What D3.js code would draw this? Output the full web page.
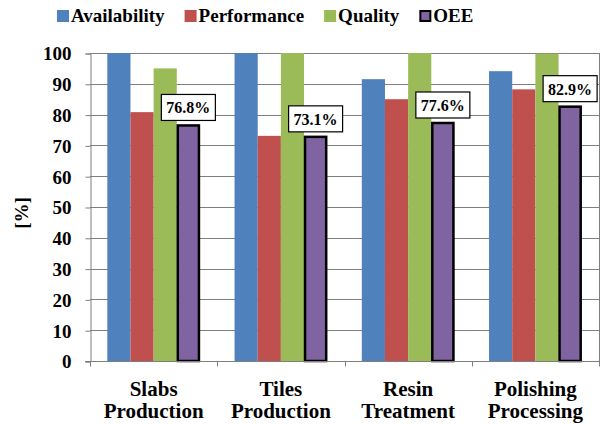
<!DOCTYPE html>
<html>
<head>
<meta charset="utf-8">
<script src="https://cdn.jsdelivr.net/npm/d3@7"></script>
<style>
  html, body { margin: 0; padding: 0; background: #fff; }
  svg { display: block; }
</style>
</head>
<body>
<svg id="chart" width="601" height="425"></svg>
<script>
// OEE breakdown per production line
const categories = [["Slabs", "Production"], ["Tiles", "Production"], ["Resin", "Treatment"], ["Polishing", "Processing"]];
const series = ["Availability", "Performance", "Quality", "OEE"];
const availability = [100, 100, 91.5, 94.1];
const performance = [80.8, 73.1, 85.0, 88.2];
const quality = [95.0, 100, 100, 99.8];
const oee = [76.8, 73.1, 77.6, 82.9];
const oeeLabels = ["76.8%", "73.1%", "77.6%", "82.9%"];
const yTicks = [0, 10, 20, 30, 40, 50, 60, 70, 80, 90, 100];

const colors = { Availability: "#4F81BD", Performance: "#C0504D", Quality: "#9BBB59", OEE: "#8064A2" };
const valuesBySeries = { Availability: availability, Performance: performance, Quality: quality, OEE: oee };

const FONT = "Liberation Serif";
const svg = d3.select("#chart");
const plot = { left: 90, right: 599, top: 53, bottom: 361 };

const catKeys = categories.map(c => c.join(" "));
const x0 = d3.scaleBand().domain(catKeys).range([plot.left, plot.right]).padding(0);
const groupPad = x0.bandwidth() * 0.136;
const x1 = d3.scaleBand().domain(series).range([groupPad, x0.bandwidth() - groupPad]).padding(0);
const y = d3.scaleLinear().domain([0, 100]).range([plot.bottom, plot.top]);

// gridlines
svg.append("g")
  .selectAll("line")
  .data(yTicks.filter(t => t > 0))
  .join("line")
  .attr("x1", plot.left).attr("x2", plot.right)
  .attr("y1", d => Math.round(y(d)) + 0.5).attr("y2", d => Math.round(y(d)) + 0.5)
  .attr("stroke", "#7f7f7f").attr("stroke-width", 1);

// right border
svg.append("line")
  .attr("x1", plot.right + 0.5).attr("x2", plot.right + 0.5)
  .attr("y1", plot.top).attr("y2", plot.bottom)
  .attr("stroke", "#7f7f7f");

// bars
const groups = svg.append("g").selectAll("g")
  .data(catKeys)
  .join("g")
  .attr("transform", d => `translate(${x0(d)},0)`);

groups.selectAll("rect")
  .data((d, i) => series.map(s => ({ s, v: valuesBySeries[s][i] })))
  .join("rect")
  .attr("x", d => x1(d.s) + (d.s === "OEE" ? 1 : 0))
  .attr("width", d => x1.bandwidth() - (d.s === "OEE" ? 2 : 0))
  .attr("y", d => y(d.v) + (d.s === "OEE" ? 1 : 0))
  .attr("height", d => y(0) - y(d.v) - (d.s === "OEE" ? 1 : 0))
  .attr("fill", d => colors[d.s])
  .attr("stroke", d => d.s === "OEE" ? "#000" : "none")
  .attr("stroke-width", 2.5);

// y axis
const yAxis = d3.axisLeft(y).tickValues(yTicks).tickSize(5).tickPadding(14).tickFormat(d3.format("d"));
const gy = svg.append("g").attr("transform", `translate(${plot.left + 0.5},0.5)`).call(yAxis);
gy.select(".domain").attr("stroke", "#7f7f7f");
gy.selectAll(".tick line").attr("stroke", "#7f7f7f");
gy.selectAll(".tick text").attr("dy", "0.34em").attr("font-size", 19);

// x axis
const gx = svg.append("g").attr("transform", `translate(0,${plot.bottom + 0.5})`);
gx.append("line").attr("x1", plot.left - 5).attr("x2", plot.right + 1).attr("stroke", "#7f7f7f");
gx.selectAll("line.tk")
  .data(catKeys.map(k => x0(k)).concat([plot.right]))
  .join("line").attr("class", "tk")
  .attr("x1", d => Math.round(d) + 0.5).attr("x2", d => Math.round(d) + 0.5)
  .attr("y1", 0).attr("y2", 5)
  .attr("stroke", "#7f7f7f");
gx.selectAll("text")
  .data(categories)
  .join("text")
  .attr("text-anchor", "middle")
  .attr("font-size", 21)
  .attr("transform", d => `translate(${x0(d.join(" ")) + x0.bandwidth() / 2},0)`)
  .selectAll("tspan")
  .data(d => d)
  .join("tspan")
  .attr("x", 0)
  .attr("y", (d, i) => 34 + i * 22)
  .text(d => d);

// y axis title
svg.append("text")
  .attr("transform", `translate(28,${(plot.top + plot.bottom) / 2 + 6}) rotate(-90)`)
  .attr("text-anchor", "middle")
  .attr("font-size", 19)
  .text("[%]");

// OEE value labels
const lbl = svg.append("g").selectAll("g")
  .data(catKeys)
  .join("g")
  .attr("transform", (d, i) => `translate(${x0(d) + x1("OEE") + x1.bandwidth() / 2},${y(oee[i])})`);
lbl.append("rect").attr("class", "box");
lbl.append("text")
  .attr("text-anchor", "middle")
  .attr("font-size", 16)
  .attr("y", -11)
  .text((d, i) => oeeLabels[i]);

// legend
const legend = svg.append("g").attr("transform", "translate(57,0)");
const legendItems = series.map(s => {
  const item = legend.append("g");
  item.append("rect")
    .attr("x", s === "OEE" ? 1 : 0).attr("y", s === "OEE" ? 11 : 10)
    .attr("width", s === "OEE" ? 10 : 12).attr("height", s === "OEE" ? 10 : 12)
    .attr("fill", colors[s])
    .attr("stroke", s === "OEE" ? "#000" : "none")
    .attr("stroke-width", 2);
  item.append("text")
    .attr("x", 14).attr("y", 22)
    .attr("font-size", 19)
    .text(s);
  return item;
});

// serif face on every text element, then measure
svg.selectAll("text").attr("font-family", FONT).attr("font-weight", "bold").attr("fill", "#000");

lbl.each(function () {
  const g = d3.select(this);
  const w = g.select("text").node().getComputedTextLength() + 10;
  g.select("rect.box")
    .attr("x", -w / 2).attr("y", -30).attr("width", w).attr("height", 26)
    .attr("fill", "#fff").attr("stroke", "#000").attr("stroke-width", 1.2);
});

let lx = 0;
legendItems.forEach(item => {
  item.attr("transform", `translate(${lx},0)`);
  lx += 14 + item.select("text").node().getComputedTextLength() + 20;
});
</script>
</body>
</html>
